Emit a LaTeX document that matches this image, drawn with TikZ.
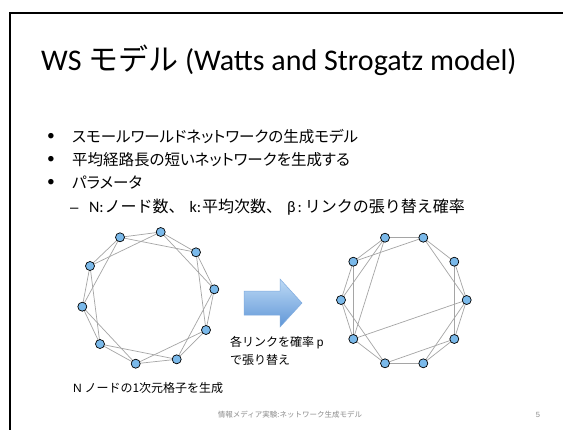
\documentclass[tikz,border=0pt]{standalone}
\usepackage{fontspec}
\setmainfont{Carlito}
\newfontfamily\jp{Noto Sans CJK JP}
\newfontfamily\jpp[RawFeature=+palt]{Noto Sans CJK JP}
\newfontfamily\arl{Liberation Sans}
\newcommand{\J}[1]{{\jp #1}}
\newcommand{\JP}[1]{{\jpp #1}}
\definecolor{nodeblue}{RGB}{122,185,234}
\definecolor{edgegray}{RGB}{165,165,165}
\definecolor{footgray}{RGB}{140,140,140}
\definecolor{arrowtop}{RGB}{190,218,245}
\definecolor{arrowbot}{RGB}{95,150,215}
\tikzset{
  vtx/.style={circle,draw=black,line width=0.7pt,fill=nodeblue,minimum size=9pt,inner sep=0pt},
  lnk/.style={draw=edgegray,line width=0.7pt},
  btext/.style={anchor=west,inner sep=0pt,font=\fontsize{15.5}{17}\selectfont},
  stext/.style={anchor=west,inner sep=0pt,font=\fontsize{16}{18}\selectfont},
  ltext/.style={anchor=west,inner sep=0pt,font=\fontsize{12}{14}\selectfont},
}
\begin{document}
\begin{tikzpicture}[x=1pt,y=-1pt]
\useasboundingbox (0,0) rectangle (567,429);
\fill[white] (0,0) rectangle (567,429);
% frame
\coordinate (fb) at (9.5,430);
\coordinate (ftl) at (9.5,13);
\coordinate (ftr) at (563,13);
\draw[line width=2pt] (fb) -- (ftl) -- (ftr);
% title
\node[anchor=west,inner sep=0pt,font=\fontsize{30}{33}\selectfont] (title) at (41,60)
  {WS \J{モデル} (Watts and Strogatz model)};
% bullets
\node[btext] (b1d) at (47,137) {•};
\node[btext] (b1) at (72,137) {\JP{スモールワールドネットワークの生成モデル}};
\node[btext] (b2d) at (47,160) {•};
\node[btext] (b2) at (72,160) {\JP{平均経路長の短いネットワークを生成する}};
\node[btext] (b3d) at (47,183) {•};
\node[btext] (b3) at (72,183) {\JP{パラメータ}};
\node[stext] (b4) at (70,207) {{\arl\fontsize{15}{17}\selectfont –}\hspace{10.5pt}N:\hspace{1pt}\J{ノード数、}\hspace{5pt}k:\hspace{1pt}\J{平均次数、}\hspace{5pt}β\hspace{2pt}:\hspace{3pt}\J{リンクの張り替え確率}};
% left ring
\foreach \n/\x/\y in {0/120/237.3,1/160.7/232,2/196/252.3,3/214.3/289.3,4/206/330,5/176.7/359.3,6/135.7/363.7,7/100/344,8/82.3/306.7,9/90/266}
  \coordinate (l\n) at (\x,\y);
\foreach \a/\b in {0/1,1/2,2/3,3/4,4/5,5/6,6/7,7/8,8/9,9/0,0/2,1/3,2/4,3/5,4/6,5/7,6/8,7/9,8/0,9/1}
  \draw[lnk] (l\a) -- (l\b);
\foreach \n in {0,...,9}
  \node[vtx] (L\n) at (l\n) {};
% right ring
\foreach \n/\x/\y in {0/385/237.7,1/423.3/237.7,2/454.3/261.7,3/466.7/300,4/454.3/339,5/423.3/363.3,6/385/363.3,7/353.3/339,8/341/300,9/353.3/261.7}
  \coordinate (r\n) at (\x,\y);
\foreach \a/\b in {0/1,1/2,2/3,3/4,4/5,5/6,6/7,7/8,8/9,9/0,0/8,1/9,1/3,2/4,3/5,4/6,6/8,7/9,0/7,3/7}
  \draw[lnk] (r\a) -- (r\b);
\foreach \n in {0,...,9}
  \node[vtx] (R\n) at (r\n) {};
% arrow
\coordinate (a1) at (244,291);
\coordinate (a2) at (280,291);
\coordinate (a3) at (280,279);
\coordinate (a4) at (302,303);
\coordinate (a5) at (280,327);
\coordinate (a6) at (280,315);
\coordinate (a7) at (244,315);
\shade[top color=arrowtop,bottom color=arrowbot,draw=arrowbot!80!white,line width=0.5pt]
  (a1) -- (a2) -- (a3) -- (a4) -- (a5) -- (a6) -- (a7) -- cycle;
% labels
\node[ltext] (lab1) at (230,343) {\J{各リンクを確率} {\arl p}};
\node[ltext] (lab2) at (230,360) {\J{で張り替え}};
\node[ltext] (lab3) at (73,388) {{\arl N} \J{ノードの1次元格子を生成}};
% footer
\node[inner sep=0pt,text=footgray,font=\jp\fontsize{7.5}{9}\selectfont] (foot) at (290,415) {情報メディア実験:ネットワーク生成モデル};
\node[inner sep=0pt,text=footgray,font=\arl\fontsize{7.5}{9}\selectfont] (pg) at (538,415) {5};
\end{tikzpicture}
\end{document}
